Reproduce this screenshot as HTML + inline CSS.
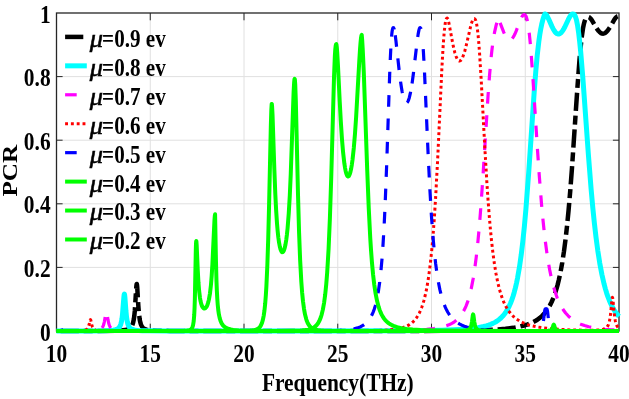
<!DOCTYPE html>
<html><head><meta charset="utf-8"><style>
html,body{margin:0;padding:0;background:#fff;}
svg{display:block;will-change:transform;}
text{font-family:"Liberation Serif",serif;font-weight:bold;fill:#000;}
</style></head><body>
<svg width="629" height="399" viewBox="0 0 629 399">
<rect x="0" y="0" width="629" height="399" fill="#fff"/>
<g stroke="#e0e0e0" stroke-width="1"><line x1="150.25" y1="13.00" x2="150.25" y2="331.00"/><line x1="244.00" y1="13.00" x2="244.00" y2="331.00"/><line x1="337.75" y1="13.00" x2="337.75" y2="331.00"/><line x1="431.50" y1="13.00" x2="431.50" y2="331.00"/><line x1="525.25" y1="13.00" x2="525.25" y2="331.00"/><line x1="56.50" y1="267.40" x2="619.00" y2="267.40"/><line x1="56.50" y1="203.80" x2="619.00" y2="203.80"/><line x1="56.50" y1="140.20" x2="619.00" y2="140.20"/><line x1="56.50" y1="76.60" x2="619.00" y2="76.60"/></g>
<g stroke="#262626" stroke-width="1"><line x1="150.25" y1="331.00" x2="150.25" y2="323.70"/><line x1="150.25" y1="13.00" x2="150.25" y2="20.30"/><line x1="244.00" y1="331.00" x2="244.00" y2="323.70"/><line x1="244.00" y1="13.00" x2="244.00" y2="20.30"/><line x1="337.75" y1="331.00" x2="337.75" y2="323.70"/><line x1="337.75" y1="13.00" x2="337.75" y2="20.30"/><line x1="431.50" y1="331.00" x2="431.50" y2="323.70"/><line x1="431.50" y1="13.00" x2="431.50" y2="20.30"/><line x1="525.25" y1="331.00" x2="525.25" y2="323.70"/><line x1="525.25" y1="13.00" x2="525.25" y2="20.30"/><line x1="56.50" y1="267.40" x2="62.60" y2="267.40"/><line x1="619.00" y1="267.40" x2="612.90" y2="267.40"/><line x1="56.50" y1="203.80" x2="62.60" y2="203.80"/><line x1="619.00" y1="203.80" x2="612.90" y2="203.80"/><line x1="56.50" y1="140.20" x2="62.60" y2="140.20"/><line x1="619.00" y1="140.20" x2="612.90" y2="140.20"/><line x1="56.50" y1="76.60" x2="62.60" y2="76.60"/><line x1="619.00" y1="76.60" x2="612.90" y2="76.60"/></g>
<rect x="56.5" y="13.0" width="562.5" height="318.0" fill="none" stroke="#262626" stroke-width="1.3"/>
<g><path d="M56.50 330.98 L99.10 330.91 116.35 330.68 121.34 330.44 124.83 330.08 127.37 329.52 128.39 329.16 129.29 328.71 130.15 328.11 130.90 327.38 131.54 326.53 132.10 325.52 132.59 324.36 133.04 322.94 133.82 319.25 134.35 315.43 134.84 310.40 136.26 287.56 136.53 284.76 136.75 283.94 136.97 284.76 137.24 287.56 138.29 305.28 138.93 313.31 139.68 319.25 140.12 321.59 140.61 323.46 141.25 325.20 141.96 326.53 142.82 327.63 143.84 328.47 145.07 329.14 146.57 329.65 148.45 330.04 150.77 330.33 157.68 330.70 169.75 330.88 239.39 330.99 416.65 330.92 450.96 330.75 473.99 330.40 486.48 330.01 496.79 329.48 505.52 328.76 513.02 327.84 519.55 326.66 525.21 325.22 527.80 324.38 530.20 323.47 532.49 322.45 534.62 321.35 537.32 319.71 539.80 317.89 542.12 315.84 544.26 313.61 546.29 311.10 548.16 308.37 549.93 305.37 551.61 302.02 553.19 298.40 554.69 294.42 556.11 290.08 557.46 285.38 558.74 280.32 559.98 274.77 561.17 268.69 562.30 262.29 563.99 251.23 565.56 239.11 567.10 225.39 568.60 210.03 570.21 191.26 571.90 169.17 577.41 87.63 579.51 59.72 580.75 46.15 581.91 35.83 583.11 27.79 583.71 24.75 584.31 22.31 584.80 20.75 585.33 19.45 585.85 18.49 586.41 17.80 587.05 17.36 587.76 17.16 588.70 17.15 589.41 17.43 590.46 18.34 591.66 19.90 596.39 27.89 597.55 29.65 598.64 31.05 599.84 32.28 601.00 33.12 602.12 33.57 603.25 33.66 604.34 33.40 605.42 32.80 606.55 31.84 607.71 30.53 609.85 27.39 614.35 19.62 615.44 18.07 616.41 17.00 617.39 16.34 617.88 16.20 618.17 16.22 618.36 16.50 618.59 17.16 619.00 19.30" fill="none" stroke="#000000" stroke-width="4.5" stroke-dasharray="18.2 4.8 9 4.8" stroke-dashoffset="32.64" stroke-linejoin="round"/>
<path d="M56.50 330.97 L91.15 330.90 105.89 330.69 110.24 330.48 113.35 330.15 115.64 329.67 117.36 328.97 118.11 328.50 118.79 327.91 119.39 327.20 119.91 326.38 120.81 324.23 121.53 321.42 122.01 318.53 122.46 314.85 123.89 296.95 124.15 294.75 124.38 294.10 124.60 294.75 124.86 296.95 125.91 310.84 126.55 317.13 127.30 321.78 127.75 323.62 128.24 325.08 128.88 326.44 129.59 327.49 130.45 328.35 131.46 329.01 132.70 329.54 134.20 329.94 136.07 330.24 138.47 330.47 142.41 330.67 147.89 330.80 167.43 330.93 322.30 330.94 401.50 330.74 424.64 330.53 441.89 330.21 453.62 329.81 463.23 329.28 471.18 328.58 477.89 327.68 483.66 326.53 486.21 325.87 488.61 325.12 490.82 324.29 492.92 323.37 494.91 322.35 496.75 321.24 498.93 319.69 500.91 317.99 502.79 316.07 504.51 313.99 506.16 311.65 507.70 309.10 509.16 306.27 510.51 303.25 511.82 299.88 513.06 296.23 514.26 292.20 515.39 287.91 516.47 283.23 517.52 278.14 519.51 266.74 521.20 254.93 522.81 241.52 524.39 226.19 525.92 208.98 528.66 173.08 534.36 89.47 535.86 70.37 537.25 55.26 538.94 40.55 539.80 34.55 540.70 29.25 541.68 24.47 542.76 20.11 543.96 16.24 544.52 14.77 544.94 13.95 545.46 14.11 546.06 14.61 546.70 15.42 547.38 16.53 548.65 19.09 552.14 26.89 553.19 28.94 554.16 30.58 555.14 31.94 556.07 32.93 557.01 33.60 557.91 33.93 558.48 33.99 559.04 33.92 560.16 33.43 561.29 32.47 562.49 30.99 563.54 29.34 564.70 27.20 568.23 19.73 569.43 17.37 570.63 15.46 571.67 14.35 572.39 13.99 573.14 13.98 573.77 14.21 574.38 14.73 574.94 15.58 575.46 16.73 576.48 20.07 577.52 25.25 578.58 32.28 579.62 41.13 580.71 52.09 582.89 78.44 588.33 153.93 591.14 189.34 592.75 207.16 594.36 223.02 596.01 237.30 597.74 250.27 599.76 263.19 601.90 274.52 604.19 284.44 605.39 288.87 606.66 293.08 607.98 296.94 609.33 300.46 610.75 303.74 612.25 306.78 613.79 309.51 615.44 312.06 617.16 314.37 619.00 316.48" fill="none" stroke="#00ffff" stroke-width="5"   stroke-linejoin="round"/>
<path d="M56.50 330.97 L79.41 330.90 90.29 330.73 93.70 330.57 96.21 330.35 98.16 330.02 99.66 329.57 100.90 328.93 101.91 328.04 102.74 326.86 103.41 325.36 103.97 323.52 104.46 321.33 105.89 312.53 106.15 311.56 106.38 311.28 106.64 311.66 106.90 312.71 108.02 319.88 108.70 323.23 109.45 325.65 110.31 327.35 110.91 328.12 111.59 328.74 112.38 329.24 113.28 329.64 115.64 330.22 119.12 330.58" fill="none" stroke="#ff00ff" stroke-width="3.2" stroke-dasharray="11.6 11.7" stroke-dashoffset="0.47" stroke-linejoin="round"/>
<path d="M119.12 330.58 L128.27 330.85 148.15 330.95 314.09 330.93 375.44 330.73 393.89 330.53 407.88 330.22 418.30 329.81 426.74 329.26 433.75 328.52 439.60 327.56 444.62 326.34 446.87 325.61 448.98 324.79 450.92 323.89 452.72 322.90 454.41 321.81 456.02 320.58 457.75 319.04 459.36 317.34 460.86 315.47 462.29 313.39 463.64 311.09 464.91 308.58 466.11 305.85 467.24 302.91 468.32 299.67 469.34 296.24 471.29 288.32 473.09 279.10 474.77 268.38 476.24 257.14 477.66 244.17 479.05 229.43 480.40 212.99 482.84 178.32 488.05 95.57 489.51 75.60 490.90 59.69 491.80 51.07 492.70 43.76 493.64 37.41 494.65 31.78 496.00 25.82 497.42 21.03 497.88 20.00 498.29 20.10 498.74 20.52" fill="none" stroke="#ff00ff" stroke-width="3.2" stroke-dasharray="11.6 11.7" stroke-dashoffset="21.93" stroke-linejoin="round"/>
<path d="M498.74 20.52 L499.41 21.56 500.20 23.19 503.80 32.41 504.77 34.63 505.67 36.40 506.69 38.01 507.66 39.13 508.64 39.83 509.61 40.07 510.14 40.01 510.66 39.83 511.75 39.05 512.84 37.75 514.00 35.83 515.01 33.77 516.14 31.13 520.71 19.17 521.88 16.78 522.92 15.26 523.52 14.75 524.09 14.59 524.84 14.77 525.48 15.34 526.00 16.21 526.49 17.42 527.42 20.99 528.36 26.38 529.30 33.71 530.24 42.94 531.21 54.40 533.01 79.52 537.17 145.05 539.24 175.18 541.56 204.56 542.73 217.28 543.89 228.72 545.27 240.81 546.70 251.64 548.16 261.26 549.74 270.15 551.42 278.25 553.19 285.39 555.06 291.77 557.09 297.50 559.00 302.02 561.02 306.04 563.24 309.70 565.60 312.94 568.15 315.81 570.92 318.36 573.92 320.58 577.19 322.51 580.68 324.15 584.54 325.57 588.77 326.77 593.50 327.77 598.71 328.59 604.60 329.25 611.27 329.77 619.00 330.17" fill="none" stroke="#ff00ff" stroke-width="3.2" stroke-dasharray="11.6 11.7" stroke-dashoffset="20.58" stroke-linejoin="round"/>
<path d="M56.50 330.98 L71.35 330.93 78.74 330.81 82.90 330.56 84.29 330.36 85.37 330.08 86.28 329.68 87.03 329.15 87.62 328.46 88.15 327.56 88.94 325.28 90.06 320.22 90.25 319.73 90.44 319.55 90.62 319.73 90.85 320.36 91.83 324.83 92.46 326.94 93.25 328.46 93.74 329.04 94.26 329.47 94.94 329.85 95.76 330.16 97.97 330.56 101.39 330.79 107.05 330.91 145.79 330.99 323.24 330.97 356.46 330.87 374.99 330.61 382.82 330.33 389.12 329.93 394.34 329.38 398.76 328.64 402.62 327.67 405.96 326.46 408.93 324.96 411.59 323.11 413.35 321.55 414.96 319.80 416.50 317.80 417.93 315.59 419.27 313.11 420.55 310.35 421.75 307.31 422.88 304.01 423.96 300.33 425.01 296.24 425.99 291.89 426.93 287.14 428.69 276.39 430.30 263.99 431.69 250.88 433.04 235.54 434.31 218.34 435.59 198.23 437.73 157.90 441.74 71.27 442.60 55.09 443.39 42.50 444.32 30.84 445.23 23.34 445.68 20.93 446.16 19.23 446.65 18.35 446.91 18.15 447.25 18.08 447.59 18.44 447.96 19.33 448.86 22.78 452.80 43.79 453.89 48.84 454.90 52.84 455.99 56.28 457.07 58.79 457.60 59.66 458.13 60.32 458.65 60.76 459.21 60.99 459.77 60.98 460.34 60.72 460.90 60.24 461.50 59.46 462.66 57.26 463.90 53.95 464.95 50.46 466.11 45.98 470.61 26.49 471.66 22.80 472.56 20.41 473.12 19.40 473.65 18.85 474.25 18.72 474.81 18.94 475.26 19.48 475.71 20.44 476.50 23.40 477.29 28.21 478.04 34.65 478.79 42.92 479.57 53.43 481.11 78.35 484.90 149.07 486.89 182.79 488.01 199.55 489.14 214.52 490.30 228.18 491.50 240.48 492.92 252.98 494.43 264.00 496.00 273.60 497.72 282.25 499.56 289.72 501.59 296.35 502.68 299.35 503.80 302.10 504.96 304.63 506.20 307.01 508.45 310.67 510.89 313.85 513.59 316.65 516.59 319.11 519.89 321.21 523.56 323.02 527.69 324.57 532.30 325.89 537.77 327.04 544.04 327.99 551.24 328.76 559.53 329.38 570.70 329.90 583.08 330.21 593.13 330.23 599.46 329.95 601.41 329.71 603.02 329.40 604.34 328.99 605.46 328.45 606.40 327.77 607.19 326.94 607.86 325.92 608.46 324.65 609.36 321.68 610.11 317.58 610.79 311.93 611.91 299.79 612.17 298.01 612.44 297.37 612.66 297.84 612.92 299.49 614.31 314.08 614.80 317.87 615.36 321.06 616.04 323.66 616.83 325.63 617.80 327.16 619.00 328.28" fill="none" stroke="#ff0000" stroke-width="3" stroke-dasharray="2.9 2.91" stroke-dashoffset="0.20" stroke-linejoin="round"/>
<path d="M56.50 330.85 L60.25 330.62 61.45 330.42 62.43 330.13 63.10 329.80 63.70 329.37 65.31 327.50 65.61 327.26 65.88 327.18 66.40 327.46 67.53 328.85 68.16 329.47 68.91 329.95 69.78 330.28 71.01 330.55 72.66 330.73 78.32 330.92 108.92 330.99 289.98 330.99 317.95 330.92 332.99 330.72 340.00 330.47 345.59 330.10 350.24 329.57 354.18 328.85 357.66 327.88 360.70 326.67 363.40 325.15 365.80 323.32 367.26 321.89 368.65 320.26 369.93 318.47 371.12 316.45 372.21 314.30 373.26 311.85 374.24 309.18 375.18 306.18 376.04 302.97 376.86 299.41 378.36 291.41 379.71 282.00 380.95 270.88 382.08 258.08 383.12 243.19 384.10 226.29 385.04 206.81 386.65 165.45 389.65 75.12 390.33 58.20 390.96 45.39 391.75 34.52 392.16 31.02 392.58 28.88 392.80 28.20 393.06 27.78 393.36 27.63 393.62 27.74 394.11 28.92 394.68 31.54" fill="none" stroke="#0000ff" stroke-width="3.2" stroke-dasharray="11.6 11.77" stroke-dashoffset="4.32" stroke-linejoin="round"/>
<path d="M394.68 31.54 L395.27 35.47 395.95 40.86 398.91 68.26 400.41 80.57 401.24 86.32 402.06 91.25 402.89 95.32 403.68 98.40 404.61 101.04 405.06 101.91 405.55 102.57 406.00 102.91 406.49 102.99 406.98 102.77 407.46 102.26 407.91 101.52 408.40 100.45 409.38 97.43 410.31 93.44 411.29 88.20" fill="none" stroke="#0000ff" stroke-width="3.2" stroke-dasharray="11.6 11.77" stroke-dashoffset="19.67" stroke-linejoin="round"/>
<path d="M411.29 88.20 L412.34 81.39 413.43 73.18 417.32 39.87 418.15 34.12 418.86 30.36 419.35 28.63 419.84 27.73 420.06 27.63 420.36 27.71 420.62 28.00 420.85 28.46 421.26 29.89 421.68 32.18 422.50 39.54" fill="none" stroke="#0000ff" stroke-width="3.2" stroke-dasharray="11.6 11.77" stroke-dashoffset="18.51" stroke-linejoin="round"/>
<path d="M422.50 39.54 L423.44 52.41 424.49 71.69 428.12 153.96 429.77 187.58 431.46 216.06 433.23 239.62 434.39 252.18 435.62 263.38 436.94 273.24 438.32 281.82 439.82 289.40 441.48 296.14 443.27 302.02 445.26 307.16 446.50 309.81 447.81 312.23 449.20 314.45 450.70 316.50 452.27 318.35 453.96 320.03 455.76 321.55 457.71 322.94 459.77 324.16 461.99 325.25 464.35 326.21 466.90 327.05 469.64 327.78 472.64 328.42 475.90 328.96 479.50 329.41 484.22 329.85 489.59 330.20 503.20 330.65 515.88 330.83 531.32 330.90 536.50 330.84 539.05 330.62 540.17 330.31 541.00 329.81 541.64 329.07 542.16 328.01 542.61 326.51 543.02 324.43 543.81 318.06" fill="none" stroke="#0000ff" stroke-width="3.2" stroke-dasharray="11.6 11.77" stroke-dashoffset="13.69" stroke-linejoin="round"/>
<path d="M543.81 318.06 L544.41 312.56 544.83 310.08 545.05 309.34 545.31 308.90 545.58 308.73 546.06 308.70 546.55 308.74 546.81 308.90 547.08 309.34 547.30 310.09 547.71 312.56 548.31 318.07" fill="none" stroke="#0000ff" stroke-width="3.2"   stroke-linejoin="round"/>
<path d="M548.31 318.07 L549.10 324.44 549.51 326.52 549.96 328.02 550.49 329.09 551.12 329.83 551.95 330.33 553.07 330.65 555.62 330.88 560.88 330.96 619.00 331.00" fill="none" stroke="#0000ff" stroke-width="3.2" stroke-dasharray="11.6 11.77" stroke-dashoffset="11.70" stroke-linejoin="round"/>
<path d="M56.50 331.00 L259.30 330.99 280.82 330.94 292.53 330.81 297.92 330.66 302.09 330.42 305.43 330.09 308.20 329.62 310.56 329.00 312.59 328.19 314.35 327.16 315.92 325.87 317.05 324.64 318.06 323.24 319.00 321.62 319.90 319.72 320.72 317.58 321.47 315.24 322.86 309.63 324.10 302.74 325.23 294.34 326.27 284.03 327.21 272.20 328.60 248.69 329.87 218.96 331.23 177.54 334.04 76.21 334.86 55.89 335.28 49.47 335.69 45.67 336.06 44.28 336.29 44.18 336.44 44.57 336.77 46.98 337.19 52.05 337.90 64.30 339.74 101.77 340.79 121.07 341.95 138.78 343.11 152.59 344.35 163.40 344.99 167.57 345.63 170.89 346.30 173.52 346.98 175.30 347.65 176.26 347.99 176.44 348.36 176.42 348.70 176.19 349.07 175.72 349.75 174.25 350.46 171.85 351.14 168.75 351.81 164.81 352.49 159.99 353.80 147.94 354.96 134.10 356.12 117.19 359.24 61.89 360.06 48.66 360.51 42.83 360.96 38.39 361.38 35.82 361.56 35.20 361.75 34.94 362.16 39.84 362.69 48.50 363.78 72.09 367.23 170.41 368.73 207.94 370.26 238.11 371.05 250.50 371.91 261.99 373.04 274.23 374.27 284.81 375.62 293.71 377.09 301.04 378.74 307.23 379.64 309.91 380.61 312.38 381.66 314.64 382.75 316.60 383.95 318.43 385.23 320.04 386.35 321.24 387.59 322.37 388.90 323.38 390.32 324.30 391.82 325.12 393.48 325.87 397.11 327.12 401.39 328.11 406.52 328.90 412.71 329.51 420.29 329.96 428.73 330.27 439.15 330.51 469.23 330.79 519.85 330.93 619.00 330.98" fill="none" stroke="#00ff00" stroke-width="4"   stroke-linejoin="round"/>
<path d="M56.50 331.00 L217.98 330.99 243.25 330.88 250.07 330.64 252.40 330.42 254.31 330.11 255.93 329.69 257.27 329.13 258.40 328.44 259.41 327.55 260.12 326.68 260.76 325.69 261.89 323.20 262.86 319.90 263.73 315.62 264.47 310.37 265.19 303.55 265.83 295.44 266.39 286.28 267.32 265.78 268.23 238.62 269.12 203.50 270.85 125.31 271.30 110.47 271.67 104.21 271.75 103.95 271.86 104.19 272.05 105.80 272.54 115.10 274.34 169.30 275.31 194.12 276.14 210.39 277.04 223.90 277.64 230.91 278.31 237.23 279.03 242.41 279.78 246.49 280.56 249.48 281.39 251.38 281.80 251.90 282.25 252.16 282.66 252.12 283.11 251.77 283.52 251.18 283.94 250.31 284.73 247.87 285.48 244.50 286.23 239.98 286.90 234.79 287.57 228.35 288.77 213.14 289.79 195.61 290.76 173.79 293.61 92.12 294.14 82.43 294.40 79.75 294.62 78.83 294.77 79.13 294.93 80.13 295.23 84.28 295.82 100.54 298.00 194.29 299.09 232.84 300.14 260.19 301.34 282.10 302.12 292.49 302.99 301.23 303.96 308.61 305.05 314.58 306.29 319.34 306.96 321.28 307.68 322.95 308.46 324.43 309.29 325.66 310.23 326.75 311.24 327.65 312.59 328.54 314.13 329.23 315.92 329.77 318.06 330.18 320.57 330.48 323.69 330.68 332.95 330.91 366.51 331.00 619.00 331.00" fill="none" stroke="#00ff00" stroke-width="4"   stroke-linejoin="round"/>
<path d="M56.50 331.00 L178.64 330.92 184.00 330.79 187.23 330.55 189.36 330.11 190.15 329.79 190.83 329.38 191.54 328.71 192.14 327.80 192.62 326.66 193.04 325.23 193.71 321.09 194.24 314.75 194.57 307.80 194.87 298.50 195.81 250.30 196.00 243.92 196.19 241.25 196.30 241.01 196.41 241.48 196.64 244.58 197.76 270.26 198.44 282.27 199.15 291.09 199.98 297.86 200.54 301.05 201.18 303.71 201.89 305.79 202.64 307.24 203.50 308.18 203.95 308.41 204.40 308.49 204.89 308.40 205.34 308.15 206.24 307.20 206.99 305.89 207.66 304.23 208.30 302.15 208.90 299.65 209.99 293.29 210.93 285.12 211.68 276.00 212.39 264.56 214.45 220.69 214.79 216.13 215.09 214.33 215.95 260.70 216.47 280.92 216.85 290.67 217.26 298.45 217.71 304.61 218.28 310.10 218.91 314.45 219.70 318.17 220.64 321.17 221.76 323.58 223.11 325.50 224.73 326.99 226.71 328.17 229.11 329.06 231.03 329.52 233.24 329.90 238.86 330.43 246.81 330.73 259.04 330.90 300.44 330.99 433.94 330.98 454.98 330.91 463.41 330.70 466.19 330.43 468.02 329.97 468.74 329.64 469.34 329.23 469.82 328.74 470.27 328.11 470.95 326.58 471.48 324.59 471.96 321.73 472.75 315.71 472.94 314.79 473.12 314.46 473.31 314.79 473.50 315.71 474.29 321.73 474.70 324.22 475.15 326.11 475.71 327.61 476.50 328.83 477.55 329.66 478.94 330.20 480.92 330.54 486.59 330.84 499.00 330.95 538.23 330.96 544.67 330.90 548.05 330.76 549.40 330.60 550.38 330.36 551.12 330.01 551.69 329.54 552.10 328.98 552.44 328.30 553.41 325.16 553.60 324.75 553.75 324.64 553.90 324.75 554.09 325.16 555.06 328.30 555.77 329.50 556.34 329.98 557.01 330.32 557.91 330.56 559.08 330.72 562.41 330.89 569.01 330.96 619.00 331.00" fill="none" stroke="#00ff00" stroke-width="4"   stroke-linejoin="round"/></g>
<g font-size="25.2"><text x="0" y="0" text-anchor="end" transform="translate(50.60 340.50) scale(0.850 1)">0</text><text x="0" y="0" text-anchor="end" transform="translate(50.60 276.90) scale(0.850 1)">0.2</text><text x="0" y="0" text-anchor="end" transform="translate(50.60 213.30) scale(0.850 1)">0.4</text><text x="0" y="0" text-anchor="end" transform="translate(50.60 149.70) scale(0.850 1)">0.6</text><text x="0" y="0" text-anchor="end" transform="translate(50.60 86.10) scale(0.850 1)">0.8</text><text x="0" y="0" text-anchor="end" transform="translate(50.60 22.50) scale(0.850 1)">1</text><text x="0" y="0" text-anchor="middle" transform="translate(56.50 362.30) scale(0.850 1)">10</text><text x="0" y="0" text-anchor="middle" transform="translate(150.25 362.30) scale(0.850 1)">15</text><text x="0" y="0" text-anchor="middle" transform="translate(244.00 362.30) scale(0.850 1)">20</text><text x="0" y="0" text-anchor="middle" transform="translate(337.75 362.30) scale(0.850 1)">25</text><text x="0" y="0" text-anchor="middle" transform="translate(431.50 362.30) scale(0.850 1)">30</text><text x="0" y="0" text-anchor="middle" transform="translate(525.25 362.30) scale(0.850 1)">35</text><text x="0" y="0" text-anchor="middle" transform="translate(619.00 362.30) scale(0.850 1)">40</text></g>
<text x="0" y="0" text-anchor="middle" font-size="25.2" transform="translate(337.80 390.70) scale(0.850 1)">Frequency(THz)</text>
<text x="0" y="0" text-anchor="middle" font-size="25.2" transform="translate(16.90 170.70) rotate(-90) scale(1.000 0.855)">PCR</text>
<g><line x1="65.10" y1="36.90" x2="86.80" y2="36.90" stroke="#000000" stroke-width="4.5" stroke-dasharray="18.2 4.8 9 4.8"/><text x="0" y="0" font-size="25.2" style="font-style:italic;font-weight:normal;stroke:#000;stroke-width:0.55" transform="translate(89.80 46.80) scale(1.050 1)">&#956;</text><text x="0" y="0" font-size="25.2" transform="translate(102.10 46.80) scale(0.838 1)">=0.9 ev</text><line x1="65.10" y1="65.84" x2="86.80" y2="65.84" stroke="#00ffff" stroke-width="5" /><text x="0" y="0" font-size="25.2" style="font-style:italic;font-weight:normal;stroke:#000;stroke-width:0.55" transform="translate(89.80 75.74) scale(1.050 1)">&#956;</text><text x="0" y="0" font-size="25.2" transform="translate(102.10 75.74) scale(0.838 1)">=0.8 ev</text><line x1="65.10" y1="94.78" x2="86.80" y2="94.78" stroke="#ff00ff" stroke-width="3.2" stroke-dasharray="11.6 11.7"/><text x="0" y="0" font-size="25.2" style="font-style:italic;font-weight:normal;stroke:#000;stroke-width:0.55" transform="translate(89.80 104.68) scale(1.050 1)">&#956;</text><text x="0" y="0" font-size="25.2" transform="translate(102.10 104.68) scale(0.838 1)">=0.7 ev</text><line x1="65.10" y1="123.72" x2="86.80" y2="123.72" stroke="#ff0000" stroke-width="3" stroke-dasharray="2.9 2.91"/><text x="0" y="0" font-size="25.2" style="font-style:italic;font-weight:normal;stroke:#000;stroke-width:0.55" transform="translate(89.80 133.62) scale(1.050 1)">&#956;</text><text x="0" y="0" font-size="25.2" transform="translate(102.10 133.62) scale(0.838 1)">=0.6 ev</text><line x1="65.10" y1="152.66" x2="86.80" y2="152.66" stroke="#0000ff" stroke-width="3.2" stroke-dasharray="11.6 11.77"/><text x="0" y="0" font-size="25.2" style="font-style:italic;font-weight:normal;stroke:#000;stroke-width:0.55" transform="translate(89.80 162.56) scale(1.050 1)">&#956;</text><text x="0" y="0" font-size="25.2" transform="translate(102.10 162.56) scale(0.838 1)">=0.5 ev</text><line x1="65.10" y1="181.60" x2="86.80" y2="181.60" stroke="#00ff00" stroke-width="4" /><text x="0" y="0" font-size="25.2" style="font-style:italic;font-weight:normal;stroke:#000;stroke-width:0.55" transform="translate(89.80 191.50) scale(1.050 1)">&#956;</text><text x="0" y="0" font-size="25.2" transform="translate(102.10 191.50) scale(0.838 1)">=0.4 ev</text><line x1="65.10" y1="210.54" x2="86.80" y2="210.54" stroke="#00ff00" stroke-width="4" /><text x="0" y="0" font-size="25.2" style="font-style:italic;font-weight:normal;stroke:#000;stroke-width:0.55" transform="translate(89.80 220.44) scale(1.050 1)">&#956;</text><text x="0" y="0" font-size="25.2" transform="translate(102.10 220.44) scale(0.838 1)">=0.3 ev</text><line x1="65.10" y1="239.48" x2="86.80" y2="239.48" stroke="#00ff00" stroke-width="4" /><text x="0" y="0" font-size="25.2" style="font-style:italic;font-weight:normal;stroke:#000;stroke-width:0.55" transform="translate(89.80 249.38) scale(1.050 1)">&#956;</text><text x="0" y="0" font-size="25.2" transform="translate(102.10 249.38) scale(0.838 1)">=0.2 ev</text></g>
</svg>
</body></html>
